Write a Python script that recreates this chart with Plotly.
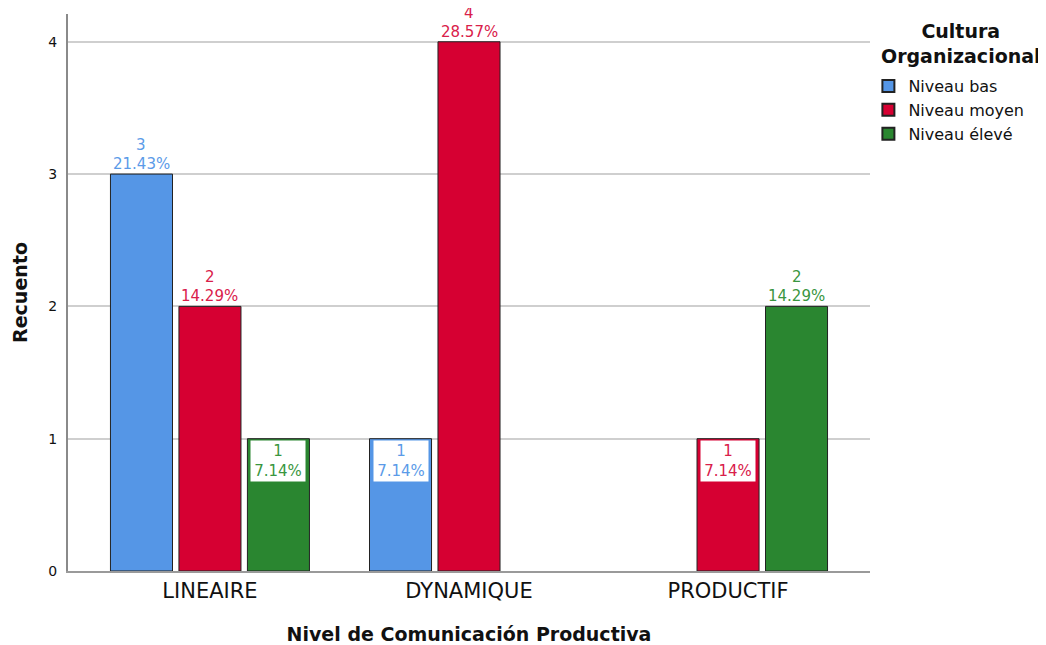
import plotly.graph_objects as go

categories = ["LINEAIRE", "DYNAMIQUE", "PRODUCTIF"]
series_names = ["Niveau bas", "Niveau moyen", "Niveau élevé"]
counts = {
    "Niveau bas": [3, 1, None],
    "Niveau moyen": [2, 4, 1],
    "Niveau élevé": [1, None, 2],
}
percents = {
    "Niveau bas": ["21.43%", "7.14%", None],
    "Niveau moyen": ["14.29%", "28.57%", "7.14%"],
    "Niveau élevé": ["7.14%", None, "14.29%"],
}
y_ticks = [0, 1, 2, 3, 4]
legend_title = "Cultura<br>Organizacional"

bar_colors = ["#5596E6", "#D60032", "#2A8630"]
label_colors = ["#5B9BE8", "#D9204A", "#3A9640"]

FONT = "DejaVu Sans"
bargap = 0.207
bargroupgap = 0.094

fig = go.Figure()
for s, col in zip(series_names, bar_colors):
    fig.add_trace(go.Bar(
        name=s, x=categories, y=counts[s],
        marker=dict(color=col, line=dict(color="#222222", width=1)),
        hoverinfo="x+y+name",
    ))

slot = (1 - bargap) / 3
for j, s in enumerate(series_names):
    for i, c in enumerate(categories):
        v = counts[s][i]
        if v is None:
            continue
        xpos = i + (j - 1) * slot
        lf = dict(family=FONT, size=15, color=label_colors[j])
        if v <= 1:
            # white box holding both lines, inside the top of the bar
            fig.add_annotation(x=xpos, y=v, xref="x", yref="y",
                               text=f"{v}<br>{percents[s][i]}",
                               showarrow=False, yanchor="top", yshift=-1,
                               bgcolor="white", borderpad=1, width=52, font=lf)
        else:
            fig.add_annotation(x=xpos, y=v, xref="x", yref="y", text=percents[s][i],
                               showarrow=False, yanchor="bottom", yshift=0,
                               borderpad=0, font=lf)
            fig.add_annotation(x=xpos, y=v, xref="x", yref="y", text=str(v),
                               showarrow=False, yanchor="bottom", yshift=19,
                               borderpad=0, font=lf)

# legend title (centered, two lines)
fig.add_annotation(x=1.113, y=1.0, xref="paper", yref="paper", yshift=-4,
                   text=f"<b>{legend_title}</b>", showarrow=False,
                   xanchor="center", yanchor="top", align="center",
                   font=dict(family=FONT, size=19, color="#111111"))

fig.update_layout(
    width=1038, height=637,
    margin=dict(l=60, r=176, t=6, b=74),
    barmode="group", bargap=bargap, bargroupgap=bargroupgap,
    plot_bgcolor="white", paper_bgcolor="white",
    font=dict(family=FONT, color="#111111"),
    showlegend=True,
    legend=dict(
        x=0.998, y=0.901, xanchor="left", yanchor="top",
        bgcolor="rgba(0,0,0,0)",
        font=dict(size=16, family=FONT, color="#111111"),
        itemsizing="constant", tracegroupgap=0,
    ),
    xaxis=dict(
        title=dict(text="<b>Nivel de Comunicación Productiva</b>", font=dict(size=19, family=FONT, color="#111111"), standoff=25),
        tickfont=dict(size=21, family=FONT, color="#111111"),
        showline=True, linecolor="#9a9a9a", linewidth=2,
        ticks="", showgrid=False, automargin=False,
        range=[-0.548, 2.548],
    ),
    yaxis=dict(
        title=dict(text="<b>Recuento</b>", font=dict(size=19, family=FONT, color="#111111"), standoff=16),
        tickvals=y_ticks, ticktext=[str(t) for t in y_ticks],
        tickfont=dict(size=14, family=FONT, color="#111111"),
        range=[0, 4.21], automargin=False,
        showline=True, linecolor="#8a8a8a", linewidth=2,
        showgrid=True, gridcolor="#cfcfcf", gridwidth=2,
        zeroline=False, ticks="", ticklabelstandoff=6,
    ),
)

fig.write_html("out.html")
